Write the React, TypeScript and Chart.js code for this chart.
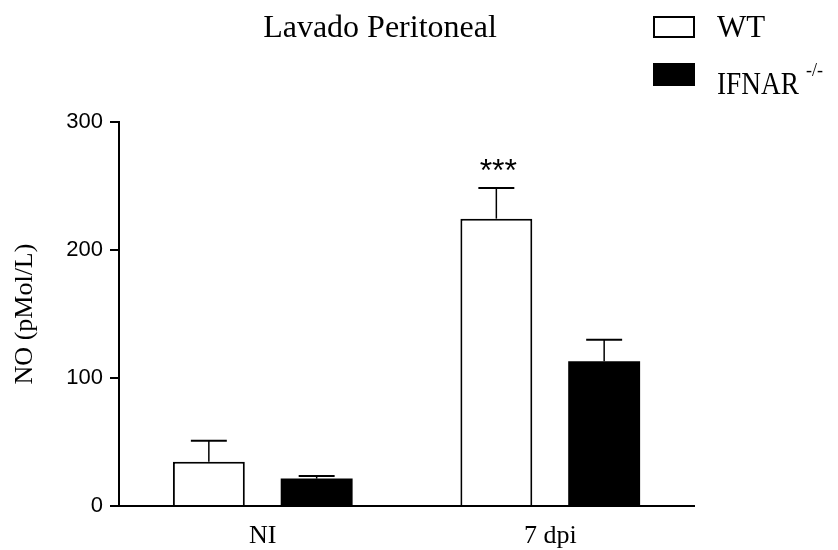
import React, { useEffect, useRef } from "react";
import { Chart, registerables } from "chart.js";

Chart.register(...registerables);

const categories = ["NI", "7 dpi"];
const wtValues = [34.6, 224.5];
const wtErrors = [16.4, 23.9];
const ifnarValues = [21.4, 113.1];
const ifnarErrors = [2, 16.7];
const yTicks = [0, 100, 200, 300];
const chartTitle = "Lavado Peritoneal";
const yTitle = "NO (pMol/L)";
const legendLabels = ["WT", "IFNAR"];
const legendSup = "-/-";
const significance = [{ dataset: 0, index: 1, label: "***" }];

const SERIF = "'Liberation Serif', 'Times New Roman', serif";
const SANS = "'Liberation Sans', Arial, sans-serif";

const errors = [wtErrors, ifnarErrors];

const overlayPlugin = {
  id: "overlay",
  afterDatasetsDraw(chart: any) {
    const ctx = chart.ctx;
    const yScale = chart.scales.y;
    ctx.save();
    // error bars
    chart.data.datasets.forEach((ds: any, di: number) => {
      const meta = chart.getDatasetMeta(di);
      meta.data.forEach((el: any, i: number) => {
        const v = ds.data[i];
        const e = errors[di][i];
        const yTop = yScale.getPixelForValue(v + e);
        const half = el.width / 4;
        ctx.strokeStyle = "#000";
        ctx.lineWidth = 1.5;
        ctx.beginPath();
        ctx.moveTo(el.x, el.y);
        ctx.lineTo(el.x, yTop);
        ctx.stroke();
        ctx.lineWidth = 2;
        ctx.beginPath();
        ctx.moveTo(el.x - half, yTop);
        ctx.lineTo(el.x + half, yTop);
        ctx.stroke();
      });
    });
    // significance markers
    significance.forEach((s) => {
      const el = chart.getDatasetMeta(s.dataset).data[s.index];
      const v = chart.data.datasets[s.dataset].data[s.index];
      const yTop = yScale.getPixelForValue(v + errors[s.dataset][s.index]);
      ctx.fillStyle = "#000";
      ctx.font = `32px ${SANS}`;
      ctx.textAlign = "center";
      ctx.textBaseline = "alphabetic";
      ctx.fillText(s.label, el.x + 2, yTop - 7);
    });
    ctx.restore();
  },
  afterDraw(chart: any) {
    const ctx = chart.ctx;
    ctx.save();
    ctx.fillStyle = "#000";
    // title
    ctx.font = `32px ${SERIF}`;
    ctx.textAlign = "center";
    ctx.textBaseline = "alphabetic";
    ctx.fillText(chartTitle, 380, 37);
    // legend
    ctx.strokeStyle = "#000";
    ctx.lineWidth = 2;
    ctx.fillStyle = "#fff";
    ctx.fillRect(654, 17, 40, 20);
    ctx.strokeRect(654, 17, 40, 20);
    ctx.fillStyle = "#000";
    ctx.fillRect(653, 63, 42, 23);
    ctx.textAlign = "left";
    ctx.font = `31px ${SERIF}`;
    ctx.fillText(legendLabels[0], 717, 37);
    ctx.save();
    ctx.translate(717, 94);
    ctx.scale(0.88, 1);
    ctx.fillText(legendLabels[1], 0, 0);
    ctx.restore();
    ctx.font = `18px ${SERIF}`;
    ctx.fillText(legendSup, 806, 76);
    ctx.restore();
  },
};

export default function App() {
  const canvasRef = useRef<HTMLCanvasElement | null>(null);

  useEffect(() => {
    document.body.style.margin = "0";
    const canvas = canvasRef.current;
    if (!canvas) return;
    const chart = new Chart(canvas, {
      type: "bar",
      data: {
        labels: categories,
        datasets: [
          {
            label: legendLabels[0],
            data: wtValues,
            backgroundColor: "#ffffff",
            borderColor: "#000000",
            borderWidth: 2,
            borderSkipped: "bottom",
            barPercentage: 0.667,
            categoryPercentage: 0.75,
          },
          {
            label: legendLabels[1],
            data: ifnarValues,
            backgroundColor: "#000000",
            borderColor: "#000000",
            borderWidth: 0,
            barPercentage: 0.667,
            categoryPercentage: 0.75,
          },
        ],
      },
      options: {
        responsive: false,
        animation: false,
        devicePixelRatio: 1,
        layout: { padding: { top: 122, right: 144, bottom: 0, left: 0 } },
        plugins: {
          legend: { display: false },
          title: { display: false },
          tooltip: { enabled: false },
        },
        scales: {
          x: {
            offset: true,
            grid: { display: false, drawTicks: false },
            border: { display: true, color: "#000", width: 2 },
            ticks: {
              color: "#000",
              font: { family: SERIF, size: 26 },
              padding: 15,
              maxRotation: 0,
            },
            afterFit: (s: any) => {
              s.height = 44;
            },
          },
          y: {
            min: 0,
            max: 300,
            afterBuildTicks: (s: any) => {
              s.ticks = yTicks.map((v) => ({ value: v }));
            },
            grid: {
              display: true,
              drawOnChartArea: false,
              drawTicks: true,
              tickLength: 9,
              color: "#000",
              lineWidth: 2,
            },
            border: { display: true, color: "#000", width: 2 },
            ticks: {
              color: "#000",
              font: { family: SANS, size: 22 },
              padding: 7,
            },
            title: {
              display: true,
              text: yTitle,
              color: "#000",
              font: { family: SERIF, size: 26, lineHeight: 1 },
              padding: { top: 12, bottom: 0 },
            },
            afterFit: (s: any) => {
              s.width = 119;
            },
          },
        },
      },
      plugins: [overlayPlugin],
    });
    return () => chart.destroy();
  }, []);

  return (
    <div style={{ position: "absolute", left: 0, top: 0, width: 838, height: 550, background: "#fff" }}>
      <canvas ref={canvasRef} width={838} height={550} />
    </div>
  );
}
